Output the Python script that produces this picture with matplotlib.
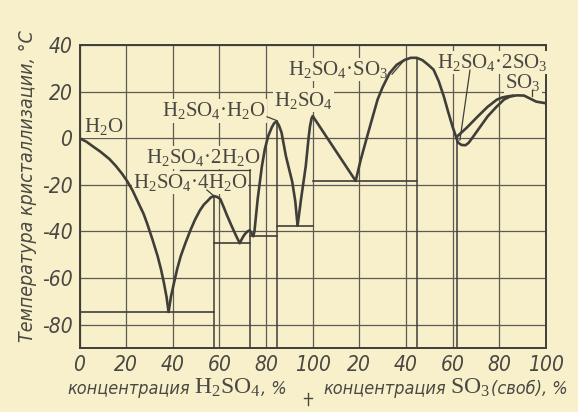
import os
import matplotlib
matplotlib.use('Agg')
import matplotlib.pyplot as plt
from matplotlib import font_manager as fm
from matplotlib.font_manager import FontProperties
from matplotlib.lines import Line2D

# ---------------- data ----------------
# x axis: 0-100 = % H2SO4, 100-200 = 100 + % free SO3
x_ticks = [0, 20, 40, 60, 80, 100, 120, 140, 160, 180, 200]
x_tick_labels = ['0', '20', '40', '60', '80', '100', '20', '40', '60', '80', '100']
y_ticks = [40, 20, 0, -20, -40, -60, -80]
y_tick_labels = ['40', '20', '0', '-20', '-40', '-60', '-80']

ice_x = [0, 3, 5.6, 9, 12.8, 15.5, 18.3, 20.5, 22.8, 25.6, 27.5, 29, 31.3,
         33.5, 35, 36.2, 37.3, 38.2]
ice_t = [0, -1.5, -3.4, -5.8, -8.9, -11.8, -15.3, -18.5, -22.5, -28.5, -32.5,
         -36.6, -43.5, -50.6, -56.5, -62.1, -68, -74.5]
tetra_x = [38.2, 39.2, 40.5, 41.9, 43.4, 45.4, 47.5, 49.5, 51.6, 53.3, 55,
           56.3, 57.6, 59, 60.3, 61.8, 63.2, 64.5, 65.7, 67.2, 68.7]
tetra_t = [-74.5, -68, -62.1, -56, -50.6, -45, -39.6, -35, -31, -28.5, -26.8,
           -25.4, -24.8, -25.2, -26, -29.5, -33, -36, -38.7, -42, -45]
dihyd_x = [68.7, 70, 71, 72, 73, 74.5]
dihyd_t = [-45, -42.5, -41, -40, -39.5, -42]
monohyd_x = [74.5, 75, 76.4, 78.2, 79.5, 80.9, 82.5, 83.5, 84.5, 85.5, 86.6,
             88.5, 91.2, 92.5, 93.5]
monohyd_t = [-42, -40, -26, -12, -4.5, 0.9, 4.8, 6.5, 7.2, 5.5, 2.5,
             -7.7, -18.7, -27, -37.5]
acid_x = [93.5, 95, 97, 98.2, 98.8, 99.5, 100, 118.4]
acid_t = [-37.5, -26, -12, 0, 5, 8.5, 9.5, -18.3]
pyro_x = [118.4, 120.5, 123, 125.5, 127.8, 130, 133, 136, 139.4, 142, 144.6,
          147, 149.5, 151.8, 154, 156.2, 158, 159.9, 161.5]
pyro_t = [-18.3, -9.5, -0.4, 8.5, 16.6, 22, 28, 31.5, 33.6, 34.5, 34.5,
          33.5, 31.5, 29.4, 24.5, 17.9, 11.5, 5.1, 0.4]
so3a_x = [161.5, 162.2, 163.8, 165.5, 166.8, 168, 171.5, 175, 178.5, 182,
          184.6, 187.5, 190.6, 193.2, 195.8, 200]
so3a_t = [0.4, -1.8, -2.9, -3, -2, -0.4, 4.5, 9.4, 13.2, 16.6,
          17.9, 18.4, 18.3, 17, 15.7, 15]
so3b_x = [161.5, 166, 170.8, 175, 179, 181.3, 183.3, 186]
so3b_t = [0.4, 4.5, 9.4, 13.5, 16.6, 17.5, 17.9, 18.3]

# eutectic (solidus) horizontals
eut_x0 = [0, 57.6, 73, 84.5, 100]
eut_x1 = [57.6, 73, 84.5, 100, 144.6]
eut_t = [-74.5, -45, -42, -37.7, -18.3]
# compound composition verticals (from bottom up to)
comp_x = [57.6, 73, 84.5, 144.6, 162]
comp_top = [-24.8, -13.7, 7.2, 34.5, 0.4]

# label leader lines (x0, t0, x1, t1)
leaders = [(80.4, 9.2, 84.5, 7.6), (54.6, -22.2, 57.9, -25.0),
           (43, -13.7, 73, -13.7), (134, 27.5, 139, 33.2),
           (167.4, 29.2, 163.1, -0.8), (194, 20.8, 194, 18.2)]

labels = [(r'H$_2$O', 10.5, 5.2),
          (r'H$_2$SO$_4$·H$_2$O', 57.6, 11.7),
          (r'H$_2$SO$_4$·2H$_2$O', 52.9, -8.1),
          (r'H$_2$SO$_4$·4H$_2$O', 47.4, -18.8),
          (r'H$_2$SO$_4$', 96.2, 16.4),
          (r'H$_2$SO$_4$·SO$_3$', 110.8, 29.3),
          (r'H$_2$SO$_4$·2SO$_3$', 176.8, 32.3),
          (r'SO$_3$', 190.1, 24.1)]

y_label = 'Температура кристаллизации, °С'
x_label_left = ['концентрация', r'H$_2$SO$_4$', ', %']
x_label_right = ['концентрация', r'SO$_3$', '(своб), %']

# ---------------- style ----------------
paper = '#f7f0cb'
ink = '#403e38'
grid_c = '#5c5a52'
text_c = '#4a4842'

plt.rcParams['mathtext.default'] = 'regular'


def find_font(key):
    for f in fm.fontManager.ttflist:
        if os.path.basename(f.fname) == key:
            return f.fname
    return None


cond_path = find_font('DejaVuSansCondensed-Oblique.ttf')


def ital(s):
    if cond_path:
        return FontProperties(fname=cond_path, size=s)
    return FontProperties(family='DejaVu Sans', style='oblique', size=s)


def serif(s):
    return FontProperties(family='Liberation Serif', size=s)


W, H = 578, 412
fig = plt.figure(figsize=(W / 100, H / 100), dpi=100, facecolor=paper)
L, R, T, B = 79.5, 546, 45, 348
ax = fig.add_axes([L / W, 1 - B / H, (R - L) / W, (B - T) / H])
ax.set_facecolor(paper)
ax.set_xlim(0, 200)
ax.set_ylim(-90, 40)

ax.set_xticks(x_ticks)
ax.set_xticklabels(x_tick_labels, fontproperties=ital(15), color=text_c)
ax.set_yticks(y_ticks)
ax.set_yticklabels(y_tick_labels, fontproperties=ital(15), color=text_c)
ax.tick_params(axis='both', length=0)
ax.tick_params(axis='x', pad=5)
ax.tick_params(axis='y', pad=5)
ax.grid(True, color=grid_c, lw=0.9, zorder=1)
ax.set_axisbelow(True)
for sp in ax.spines.values():
    sp.set_color(ink)
    sp.set_linewidth(1.4)

# solidus lines and composition lines
for x0, x1, t in zip(eut_x0, eut_x1, eut_t):
    ax.plot([x0, x1], [t, t], color=ink, lw=1.2, zorder=2)
for x, top in zip(comp_x, comp_top):
    ax.plot([x, x], [-90, top], color=ink, lw=1.1, zorder=2)
for x0, t0, x1, t1 in leaders:
    ax.plot([x0, x1], [t0, t1], color=ink, lw=0.9, zorder=3.5)

# liquidus curves
for xs, ts in [(ice_x, ice_t), (tetra_x, tetra_t), (dihyd_x, dihyd_t),
               (monohyd_x, monohyd_t), (acid_x, acid_t), (pyro_x, pyro_t),
               (so3a_x, so3a_t), (so3b_x, so3b_t)]:
    ax.plot(xs, ts, color=ink, lw=1.9, solid_joinstyle='round',
            solid_capstyle='round', zorder=4)

for s, x, t in labels:
    ax.text(x, t, s, ha='center', va='center', fontproperties=serif(15),
            color=text_c, zorder=3,
            bbox=dict(boxstyle='square,pad=0.05', fc=paper, ec='none'))

# y label
fig.text(28 / W, 1 - 186 / H, y_label, rotation=90, ha='center', va='center',
         fontproperties=ital(14), color=text_c)

# x label pieces, placed one after another
base = 1 - 394 / H
renderer = fig.canvas.get_renderer()
for start, parts in [(67, x_label_left), (323, x_label_right)]:
    x = start
    for i, s in enumerate(parts):
        fp = serif(17) if i == 1 else ital(13)
        t = fig.text(x / W, base, s, ha='left', va='baseline',
                     fontproperties=fp, color=text_c)
        bb = t.get_window_extent(renderer)
        x = bb.x1 + (4 if i == 0 else 1)

fig.add_artist(Line2D([308 / W, 308 / W], [1 - 393 / H, 1 - 405 / H],
                      color=text_c, lw=1.0))
fig.add_artist(Line2D([304 / W, 312 / W], [1 - 398 / H, 1 - 398 / H],
                      color=text_c, lw=1.0))

fig.savefig('out.png', dpi=100, facecolor=paper)
